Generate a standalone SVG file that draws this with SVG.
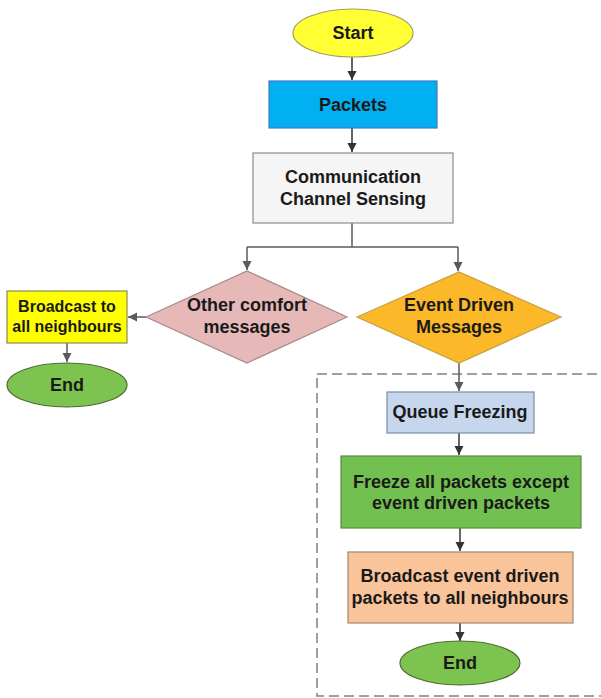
<svg xmlns="http://www.w3.org/2000/svg" width="601" height="698" viewBox="0 0 601 698">
<defs>
<style>
text{font-family:"Liberation Sans",Arial,sans-serif;font-weight:bold;font-size:18px;fill:#1a1a1a;text-anchor:middle}
.sm{font-size:16px}
.c{fill:none;stroke:#333;stroke-width:1.5}
.g{fill:none;stroke:#5a5a5a;stroke-width:1.5}
</style>
<marker id="ab" markerWidth="10" markerHeight="10" refX="9" refY="5" orient="auto" markerUnits="userSpaceOnUse"><path d="M0,0.5 L9,5 L0,9.5 Z" fill="#333"/></marker>
<marker id="ag" markerWidth="10" markerHeight="10" refX="9" refY="5" orient="auto" markerUnits="userSpaceOnUse"><path d="M0,0.5 L9,5 L0,9.5 Z" fill="#5a5a5a"/></marker>
</defs>
<rect width="601" height="698" fill="#fff"/>
<rect x="317" y="374" width="300" height="322" fill="none" stroke="#808080" stroke-width="1.5" stroke-dasharray="10 5"/>
<g id="connectors">
<path class="c" d="M352,57 V80" marker-end="url(#ab)"/>
<path class="c" d="M352,128 V152" marker-end="url(#ab)"/>
<path class="g" d="M352,223 V247"/>
<path class="g" d="M247,247 H458"/>
<path class="g" d="M247,247 V270" marker-end="url(#ag)"/>
<path class="g" d="M458,247 V271" marker-end="url(#ag)"/>
<path class="g" d="M146,317 H128" marker-end="url(#ag)"/>
<path class="g" d="M67,343 V362" marker-end="url(#ag)"/>
<path class="g" d="M459,363 V391" marker-end="url(#ag)"/>
<path class="c" d="M459,433 V455" marker-end="url(#ab)"/>
<path class="c" d="M460,528 V551" marker-end="url(#ab)"/>
<path class="c" d="M460,623 V641" marker-end="url(#ab)"/>
</g>
<g id="start"><ellipse cx="353" cy="33" rx="60" ry="24" fill="#ffff33" stroke="#a0a060" stroke-width="1.2"/><text x="353" y="39">Start</text></g>
<g id="packets"><rect x="269" y="81" width="168" height="47" fill="#00b0f0" stroke="#3a7cc0" stroke-width="1.2"/><text x="353" y="111">Packets</text></g>
<g id="sensing"><rect x="253" y="153" width="200" height="70" fill="#f5f5f5" stroke="#8c8c8c" stroke-width="1.2"/><text x="353" y="183">Communication</text><text x="353" y="205">Channel Sensing</text></g>
<g id="other"><path d="M146,317 L247,271 L347,317 L247,363 Z" fill="#e6b9b8" stroke="#a88a8a" stroke-width="1.2"/><text x="247" y="311">Other comfort</text><text x="247" y="333">messages</text></g>
<g id="event"><path d="M357,317 L459,272 L561,317 L459,363 Z" fill="#fbb829" stroke="#c8a040" stroke-width="1.2"/><text x="459" y="311">Event Driven</text><text x="459" y="333">Messages</text></g>
<g id="broadcast"><rect x="7" y="291" width="120" height="52" fill="#ffff00" stroke="#8a8a5a" stroke-width="1.2"/><text class="sm" x="67" y="312">Broadcast to</text><text class="sm" x="67" y="332">all neighbours</text></g>
<g id="end1"><ellipse cx="67" cy="385" rx="60" ry="22" fill="#7cc350" stroke="#506a30" stroke-width="1.2"/><text x="67" y="391">End</text></g>
<g id="queue"><rect x="387" y="392" width="147" height="41" fill="#c6d6ec" stroke="#7a8ca8" stroke-width="1.2"/><text x="460" y="418">Queue Freezing</text></g>
<g id="freeze"><rect x="341" y="456" width="240" height="72" fill="#72c150" stroke="#5a8a40" stroke-width="1.2"/><text x="461" y="488">Freeze all packets except</text><text x="461" y="509">event driven packets</text></g>
<g id="broadcastEvent"><rect x="348" y="552" width="225" height="71" fill="#fac49a" stroke="#a08870" stroke-width="1.2"/><text x="460" y="582">Broadcast event driven</text><text x="460" y="604">packets to all neighbours</text></g>
<g id="end2"><ellipse cx="460" cy="663" rx="60" ry="22" fill="#7cc350" stroke="#506a30" stroke-width="1.2"/><text x="460" y="669">End</text></g>
</svg>
